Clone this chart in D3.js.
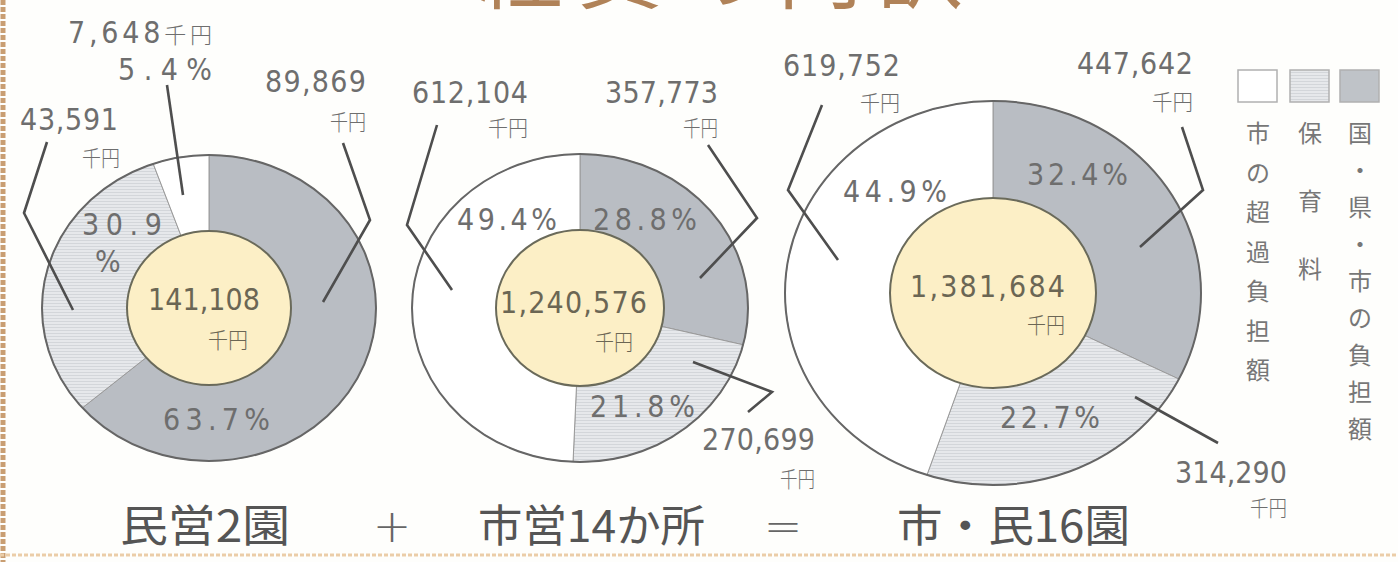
<!DOCTYPE html>
<html><head><meta charset="utf-8">
<script src="https://cdn.jsdelivr.net/npm/d3@7"></script>
<style>
html,body{margin:0;padding:0;background:#fefefc;}
svg{display:block;}
text{font-family:"Liberation Sans Narrow","DejaVu Sans Condensed",sans-serif;fill:#6e6e6e;}
.jp{font-family:"Noto Sans CJK JP",sans-serif;}
</style></head><body>
<svg id="chart" width="1398" height="562"></svg>
<script>
// ---------------- data ----------------
const chartTitle = "経費の内訳";
const seriesNames = ["国・県・市の負担額", "保育料", "市の超過負担額"];
const groupNames = ["民営2園", "市営14か所", "市・民16園"];
const operators = ["+", "="];
const unitLabel = "千円";
const privateValues  = [89869, 43591, 7648];
const cityValues     = [357773, 270699, 612104];
const combinedValues = [447642, 314290, 619752];
const privatePercents  = ["63.7%", "30.9%", "5.4%"];
const cityPercents     = ["28.8%", "21.8%", "49.4%"];
const combinedPercents = ["32.4%", "22.7%", "44.9%"];

// ---------------- layout (positions/styles only) ----------------
const fills = ["#b9bdc3", "url(#hatch)", "#ffffff"];
const layouts = [
  { cx:209, cy:308, rx:167, ry:153, irx:82, iry:77,
    total:{x:148,w:112,y:310}, totalUnit:{x:208,w:40,y:348},
    amount:[{x:265,w:101,y:92},{x:20,w:98,y:130},{x:68,w:144,y:43,inline:true}],
    unit:[{x:330,w:36,y:130},{x:82,w:38,y:166},null],
    pct:[{x:163,w:107,y:430},{x:82,w:80,y:235,split:{x:95,w:25,y:272}},{x:118,w:94,y:80}],
    leader:[[[134,-165],[161,-88],[114,-6]],[[-162,-166],[-185,-95],[-136,2]],[[-42,-223],[-26,-113]]],
    name:{x:120,w:170} },
  { cx:580, cy:308, rx:168, ry:154, irx:84, iry:78,
    total:{x:500,w:147,y:313}, totalUnit:{x:595,w:38,y:350},
    amount:[{x:605,w:113,y:103},{x:702,w:113,y:450},{x:412,w:116,y:103}],
    unit:[{x:683,w:35,y:136},{x:780,w:35,y:487},{x:488,w:40,y:136}],
    pct:[{x:593,w:104,y:230},{x:590,w:105,y:417},{x:457,w:100,y:230}],
    leader:[[[128,-163],[177,-90],[120,-30]],[[113,54],[192,84],[168,104]],[[-143,-183],[-173,-83],[-128,-18]]],
    name:{x:478,w:227} },
  { cx:993, cy:293, rx:208, ry:192, irx:103, iry:95,
    total:{x:910,w:155,y:297}, totalUnit:{x:1027,w:38,y:333},
    amount:[{x:1077,w:116,y:74},{x:1175,w:112,y:483},{x:783,w:117,y:76}],
    unit:[{x:1152,w:41,y:110},{x:1250,w:37,y:516},{x:860,w:40,y:111}],
    pct:[{x:1027,w:101,y:185},{x:1000,w:100,y:428},{x:843,w:104,y:202}],
    leader:[[[189,-166],[210,-103],[147,-46]],[[142,104],[225,150]],[[-171,-188],[-205,-103],[-155,-33]]],
    name:{x:897,w:233} }
];
const datasets = [
  {values:privateValues, percents:privatePercents},
  {values:cityValues, percents:cityPercents},
  {values:combinedValues, percents:combinedPercents}
];

// ---------------- drawing ----------------
const svg = d3.select("#chart");
const defs = svg.append("defs");
const pat = defs.append("pattern").attr("id","hatch").attr("patternUnits","userSpaceOnUse")
  .attr("width",4).attr("height",3);
pat.append("rect").attr("width",4).attr("height",3).attr("fill","#e6e8eb");
pat.append("line").attr("x1",0).attr("x2",4).attr("y1",0.5).attr("y2",0.5)
  .attr("stroke","#d3d6da").attr("stroke-width",1);

svg.append("rect").attr("width",1398).attr("height",562).attr("fill","#fefefc");

// title (only the bottom of it is visible, as in the reference)
svg.append("text").attr("class","jp").attr("x",477).attr("y",2)
  .attr("textLength",486).attr("lengthAdjust","spacing")
  .style("font-size","86px").style("font-weight",400).style("fill","#b08258")
  .text(chartTitle);

// borders
svg.append("line").attr("x1",3).attr("x2",3).attr("y1",0).attr("y2",562)
  .attr("stroke","#c99e72").attr("stroke-width",5).attr("stroke-dasharray","5,2");
svg.append("line").attr("x1",0).attr("x2",1398).attr("y1",555).attr("y2",555)
  .attr("stroke","#ebcda8").attr("stroke-width",3).attr("stroke-dasharray","4,2");

const fmt = d3.format(",");
const pie = d3.pie().sort(null).value(d => d);

function txt(g, s, p, size, cls, color, adjust) {
  const t = g.append("text").attr("x", p.x).attr("y", p.y)
    .attr("textLength", p.w).attr("lengthAdjust", adjust || "spacing")
    .style("font-size", size + "px").text(s);
  if (cls) t.attr("class", cls);
  if (color) t.style("fill", color);
  return t;
}
function unit(g, p, color) {
  return txt(g, unitLabel, p, 22, "jp", color, "spacingAndGlyphs").style("font-weight", 300);
}

layouts.forEach((L, i) => {
  const D = datasets[i];
  const g = svg.append("g");
  const arcs = pie(D.values);
  const pt = a => [L.cx + L.rx * Math.sin(a), L.cy - L.ry * Math.cos(a)];
  // slices
  g.selectAll("path.slice").data(arcs).join("path").attr("class","slice")
    .attr("d", d => {
      const p0 = pt(d.startAngle), p1 = pt(d.endAngle);
      const large = (d.endAngle - d.startAngle) > Math.PI ? 1 : 0;
      return `M${L.cx},${L.cy}L${p0[0]},${p0[1]}A${L.rx},${L.ry} 0 ${large} 1 ${p1[0]},${p1[1]}Z`;
    })
    .attr("fill", (d, j) => fills[j])
    .attr("stroke", "#9a9a9a").attr("stroke-width", 1);
  // outer outline
  g.append("ellipse").attr("cx",L.cx).attr("cy",L.cy).attr("rx",L.rx).attr("ry",L.ry)
    .attr("fill","none").attr("stroke","#666").attr("stroke-width",2);
  // inner total ellipse
  g.append("ellipse").attr("cx",L.cx).attr("cy",L.cy).attr("rx",L.irx).attr("ry",L.iry)
    .attr("fill","#fcefc6").attr("stroke","#6a6a5a").attr("stroke-width",2);
  txt(g, fmt(d3.sum(D.values)), L.total, 30, null, "#6b6654");
  unit(g, L.totalUnit, "#6b6654");

  // leader lines
  arcs.forEach((a, j) => {
    const pts = L.leader[j].map(o => [L.cx + o[0], L.cy + o[1]]);
    g.append("path").attr("d", d3.line()(pts)).attr("fill","none")
      .attr("stroke","#4e4e4e").attr("stroke-width",2.6).attr("stroke-linejoin","miter");
  });

  // amounts, units, percents
  arcs.forEach((a, j) => {
    const A = L.amount[j];
    if (A.inline) {
      const t = g.append("text").attr("x",A.x).attr("y",A.y)
        .attr("textLength",A.w).attr("lengthAdjust","spacing").style("font-size","30px");
      t.append("tspan").text(fmt(a.value));
      t.append("tspan").attr("class","jp").style("font-size","22px").style("font-weight",300).text(unitLabel);
    } else {
      txt(g, fmt(a.value), A, 30);
      unit(g, L.unit[j]);
    }
    const P = L.pct[j];
    if (P.split) {
      const s = D.percents[j];
      txt(g, s.slice(0, -1), P, 30);
      txt(g, "%", P.split, 30);
    } else {
      txt(g, D.percents[j], P, 30);
    }
  });

  // group name
  g.append("text").attr("class","jp").attr("x",L.name.x).attr("y",542)
    .attr("textLength",L.name.w).attr("lengthAdjust","spacingAndGlyphs")
    .style("font-size","44px").style("fill","#555").text(groupNames[i]);
});

// operators
const opX = [392, 783];
operators.forEach((o, i) => {
  svg.append("text").attr("x", opX[i]).attr("y", 542).attr("text-anchor","middle")
    .style("font-family","DejaVu Sans").style("font-size","46px").style("font-weight",300)
    .style("fill","#666").text(o);
});

// legend
const legX = [1360, 1310, 1258];
const legFill = ["#bfc3c8", "url(#hatch)", "#ffffff"];
const legStep = [37, 68, 39.5];
seriesNames.forEach((s, i) => {
  svg.append("rect").attr("x", legX[i] - 20).attr("y", 70).attr("width", 39).attr("height", 32)
    .attr("fill", legFill[i]).attr("stroke", "#b0b0b0").attr("stroke-width", 1.5);
  Array.from(s).forEach((ch, k) => {
    svg.append("text").attr("class","jp").attr("x", legX[i]).attr("y", 133 + k * legStep[i] + 9)
      .attr("text-anchor","middle").style("font-size","24px").style("fill","#777").text(ch);
  });
});
</script>
</body></html>
